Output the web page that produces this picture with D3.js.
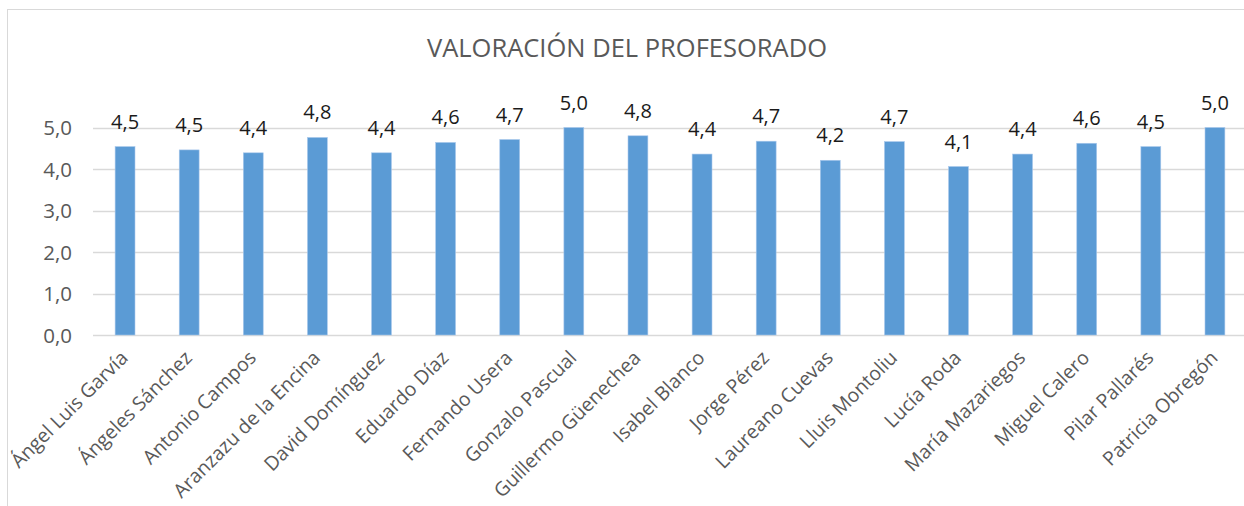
<!DOCTYPE html>
<html><head><meta charset="utf-8">
<script src="https://cdn.jsdelivr.net/npm/d3@7"></script>
<style>body{margin:0;background:#fff;}svg{display:block;}</style>
</head><body>
<script>
const title = "VALORACIÓN DEL PROFESORADO";
const categories = ["Ángel Luis Garvía","Ángeles Sánchez","Antonio Campos","Aranzazu de la Encina","David Domínguez","Eduardo Díaz","Fernando Usera","Gonzalo Pascual","Guillermo Güenechea","Isabel Blanco","Jorge Pérez","Laureano Cuevas","Lluis Montoliu","Lucía Roda","María Mazariegos","Miguel Calero","Pilar Pallarés","Patricia Obregón"];
const values = [4.54,4.46,4.39,4.76,4.39,4.64,4.71,5.0,4.80,4.36,4.67,4.21,4.66,4.06,4.36,4.62,4.54,5.0];
const yTicks = [0,1,2,3,4,5];

const W = 1244, H = 506;
const font = "'Open Sans', 'Noto Sans', sans-serif";
const svg = d3.select("body").append("svg").attr("width", W).attr("height", H);

// chart border
svg.append("rect").attr("x",7.5).attr("y",9.5).attr("width",W+20).attr("height",H+20)
  .attr("fill","none").attr("stroke","#d9d9d9").attr("stroke-width",1);

const x = d3.scaleBand().domain(categories).range([93, 1247]).paddingInner(0.69).paddingOuter(0.345);
const y = d3.scaleLinear().domain([0,5]).range([335, 127.5]);

// gridlines
svg.append("g").selectAll("line").data(yTicks).join("line")
  .attr("x1",93).attr("x2",W).attr("y1",d=>Math.round(y(d))+0.5).attr("y2",d=>Math.round(y(d))+0.5)
  .attr("stroke","#d9d9d9").attr("stroke-width",1.3);

// y axis
const yAxis = d3.axisLeft(y).tickValues(yTicks).tickSize(0).tickPadding(0)
  .tickFormat(d => d3.format(".1f")(d).replace(".", ","));
const gy = svg.append("g").attr("transform","translate(72,0)").call(yAxis);
gy.select(".domain").remove();
gy.selectAll("text").attr("font-family",font).attr("font-size",20.5).attr("fill","#595959").attr("dy","0.35em");

// bars
svg.append("g").selectAll("rect").data(values).join("rect")
  .attr("x",(d,i)=>x(categories[i])).attr("width",x.bandwidth())
  .attr("y",d=>y(d)).attr("height",d=>y(0)-y(d))
  .attr("fill","#5b9bd5").attr("stroke","#a9c8ec").attr("stroke-width",0.6);

// data labels
svg.append("g").selectAll("text").data(values).join("text")
  .attr("x",(d,i)=>x(categories[i])+x.bandwidth()/2).attr("y",d=>y(d)-18)
  .attr("text-anchor","middle").attr("font-family",font).attr("font-size",20).attr("fill","#1a1a1a")
  .text(d=>d3.format(".1f")(d).replace(".", ","));

// x axis labels
const xAxis = d3.axisBottom(x).tickSize(0).tickPadding(0);
const gx = svg.append("g").attr("transform","translate(0,335)").call(xAxis);
gx.select(".domain").remove();
gx.selectAll(".tick text")
  .attr("font-family",font).attr("font-size",19.5).attr("fill","#595959")
  .attr("text-anchor","end").attr("y",0).attr("dy",0)
  .attr("transform","translate(4,24) rotate(-45)");

// title
svg.append("text").attr("x",627).attr("y",57).attr("text-anchor","middle")
  .attr("font-family",font).attr("font-size",25.5).attr("fill","#595959").text(title);
</script>
</body></html>
